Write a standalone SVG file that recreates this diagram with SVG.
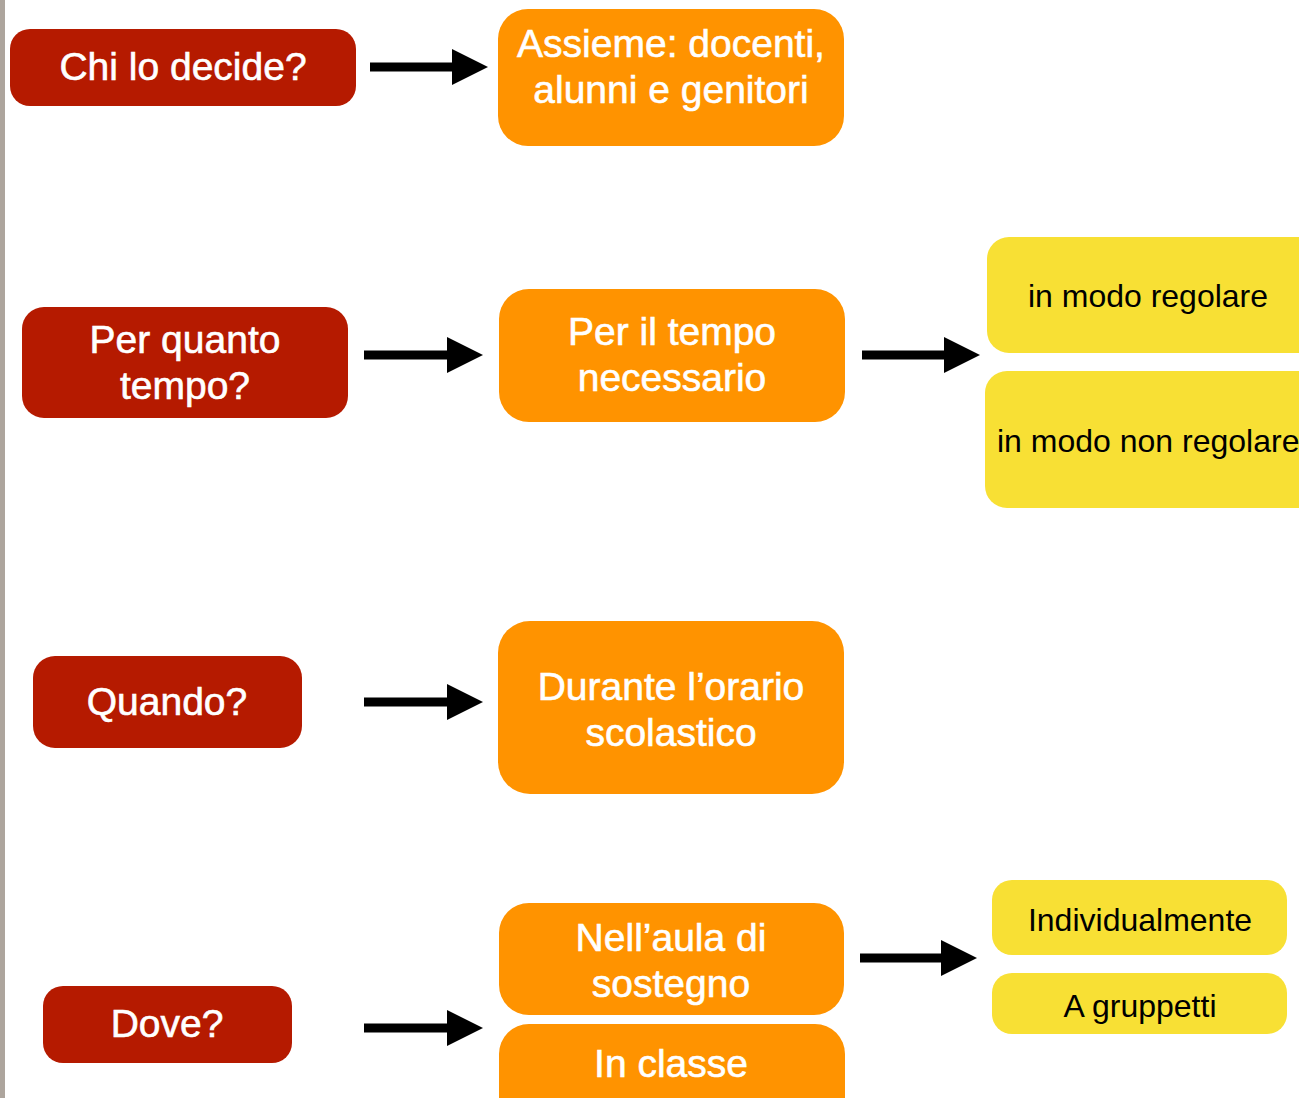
<svg xmlns="http://www.w3.org/2000/svg" width="1299" height="1098" viewBox="0 0 1299 1098">
<defs>
<marker id="ah" markerUnits="userSpaceOnUse" markerWidth="36" markerHeight="36" viewBox="0 0 36 36" refX="0" refY="18" orient="auto">
<path d="M0,0 L36,18 L0,36 Z" fill="#000"/>
</marker>
<style>
.red{fill:#B51A00}
.org{fill:#FF9300}
.yel{fill:#F8E034}
.tw{fill:#fff;stroke:#fff;stroke-width:0.6;font-family:"Liberation Sans",Arial,sans-serif;font-size:39px;text-anchor:middle}
.tb{fill:#000;font-family:"Liberation Sans",Arial,sans-serif;font-size:32px;text-anchor:middle}
.con{stroke:#000;stroke-width:9;fill:none;marker-end:url(#ah)}
</style>
</defs>
<rect width="1299" height="1098" fill="#fff"/>
<rect x="0" y="0" width="5" height="1098" fill="#ADA59D"/>

<g id="connectors">
<line class="con" x1="370" y1="67" x2="452" y2="67"/>
<line class="con" x1="364" y1="355" x2="447" y2="355"/>
<line class="con" x1="862" y1="355" x2="944" y2="355"/>
<line class="con" x1="364" y1="702" x2="447" y2="702"/>
<line class="con" x1="364" y1="1028" x2="447" y2="1028"/>
<line class="con" x1="860" y1="958" x2="941" y2="958"/>
</g>

<g id="chi">
<rect class="red" x="10" y="29" width="346" height="77" rx="20"/>
<text class="tw" x="183" y="80">Chi lo decide?</text>
</g>
<g id="assieme">
<rect class="org" x="498" y="9" width="346" height="137" rx="30"/>
<text class="tw" x="671" y="57">Assieme: docenti,</text>
<text class="tw" x="671" y="103">alunni e genitori</text>
</g>

<g id="perquanto">
<rect class="red" x="22" y="307" width="326" height="111" rx="22"/>
<text class="tw" x="185" y="353">Per quanto</text>
<text class="tw" x="185" y="399">tempo?</text>
</g>
<g id="tempo">
<rect class="org" x="499" y="289" width="346" height="133" rx="30"/>
<text class="tw" x="672" y="345">Per il tempo</text>
<text class="tw" x="672" y="391">necessario</text>
</g>
<g id="regolare">
<rect class="yel" x="987" y="237" width="340" height="116" rx="22"/>
<text class="tb" x="1148" y="307">in modo regolare</text>
</g>
<g id="nonregolare">
<rect class="yel" x="985" y="371" width="340" height="137" rx="22"/>
<text class="tb" x="997" y="452" style="text-anchor:start">in modo non regolare</text>
</g>

<g id="quando">
<rect class="red" x="33" y="656" width="269" height="92" rx="22"/>
<text class="tw" x="167" y="715">Quando?</text>
</g>
<g id="durante">
<rect class="org" x="498" y="621" width="346" height="173" rx="32"/>
<text class="tw" x="671" y="700">Durante l’orario</text>
<text class="tw" x="671" y="746">scolastico</text>
</g>

<g id="dove">
<rect class="red" x="43" y="986" width="249" height="77" rx="20"/>
<text class="tw" x="167" y="1037">Dove?</text>
</g>
<g id="aula">
<rect class="org" x="499" y="903" width="345" height="112" rx="30"/>
<text class="tw" x="671" y="951">Nell’aula di</text>
<text class="tw" x="671" y="997">sostegno</text>
</g>
<g id="classe">
<rect class="org" x="499" y="1024" width="346" height="110" rx="30"/>
<text class="tw" x="671" y="1077">In classe</text>
</g>
<g id="individualmente">
<rect class="yel" x="992" y="880" width="295" height="75" rx="20"/>
<text class="tb" x="1140" y="931">Individualmente</text>
</g>
<g id="gruppetti">
<rect class="yel" x="992" y="973" width="295" height="61" rx="20"/>
<text class="tb" x="1140" y="1017">A gruppetti</text>
</g>
</svg>
